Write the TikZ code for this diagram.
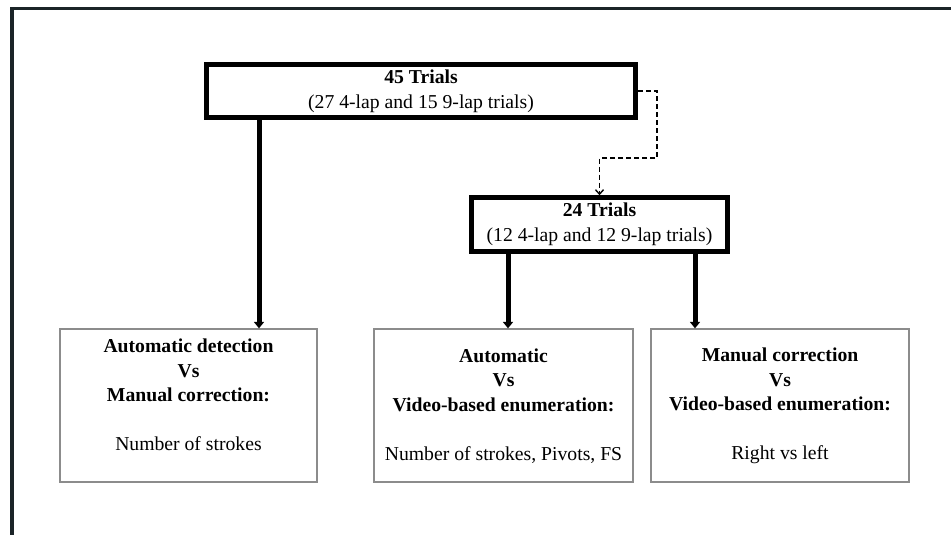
\documentclass[tikz,border=0pt]{standalone}
\usepackage{fontspec}
\setmainfont{Liberation Serif}
\usetikzlibrary{arrows.meta}
\definecolor{framegray}{HTML}{1B2428}
\definecolor{boxgray}{HTML}{8C8C8C}
\tikzset{
  trialbox/.style={draw, line width=1mm, minimum height=10.7mm, inner sep=0pt, align=center},
  lowbox/.style={draw=boxgray, line width=0.25mm, minimum height=30.6mm, inner sep=0pt},
  lowtext/.style={align=center, inner sep=0pt},
  bigarrow/.style={->, line width=1mm},
  dasharrow/.style={-{Straight Barb[length=0.9mm,width=1.6mm]}, line width=0.28mm, dash pattern=on 1mm off 0.6mm}
}

\begin{document}
\begin{tikzpicture}[x=0.2mm, y=-0.2mm, >={Triangle[length=1.3mm,width=2mm]},
    every node/.style={font=\fontsize{11.2}{14}\selectfont}]
  \useasboundingbox (0,0) rectangle (951,535);
  \draw[framegray, line width=0.7mm] (12,535) -- (12,8.5) -- (951,8.5); % frame
  \node[trialbox, minimum width=85.8mm] (t45) at (421,91) {\textbf{45 Trials}\\(27 4-lap and 15 9-lap trials)};
  \node[trialbox, minimum width=51.2mm] (t24) at (599.5,224.5) {\textbf{24 Trials}\\(12 4-lap and 12 9-lap trials)};
  \node[lowbox, minimum width=51.4mm] (automan) at (188.5,405.5) {};
  \node[lowbox, minimum width=51.8mm] (autovid) at (503.5,405.5) {};
  \node[lowbox, minimum width=51.6mm] (manvid) at (780,405.5) {};
  \node[lowtext] (automan-t) at (188.5,395) {\textbf{Automatic detection}\\\textbf{Vs}\\\textbf{Manual correction:}\\[14pt]Number of strokes};
  \node[lowtext] (autovid-t) at (503.5,406) {\textbf{Automatic}\\\textbf{Vs}\\\textbf{Video-based enumeration:}\\[14pt]Number of strokes, Pivots, FS};
  \node[lowtext] (manvid-t) at (780,406) {\textbf{Manual correction}\\\textbf{Vs}\\\textbf{Video-based enumeration:}\\[14pt]Right vs left};
  \draw[bigarrow] (t45.south -| 259,0) -- (automan.north -| 259,0); % 45 -> detection
  \draw[bigarrow] (t24.south -| 508,0) -- (autovid.north -| 508,0); % 24 -> automatic
  \draw[bigarrow] (t24.south -| 695,0) -- (manvid.north -| 695,0); % 24 -> manual
  \draw[dasharrow] (t45.east) -| (657,158) -| (t24.north); % 45 -> 24
\end{tikzpicture}
\end{document}
